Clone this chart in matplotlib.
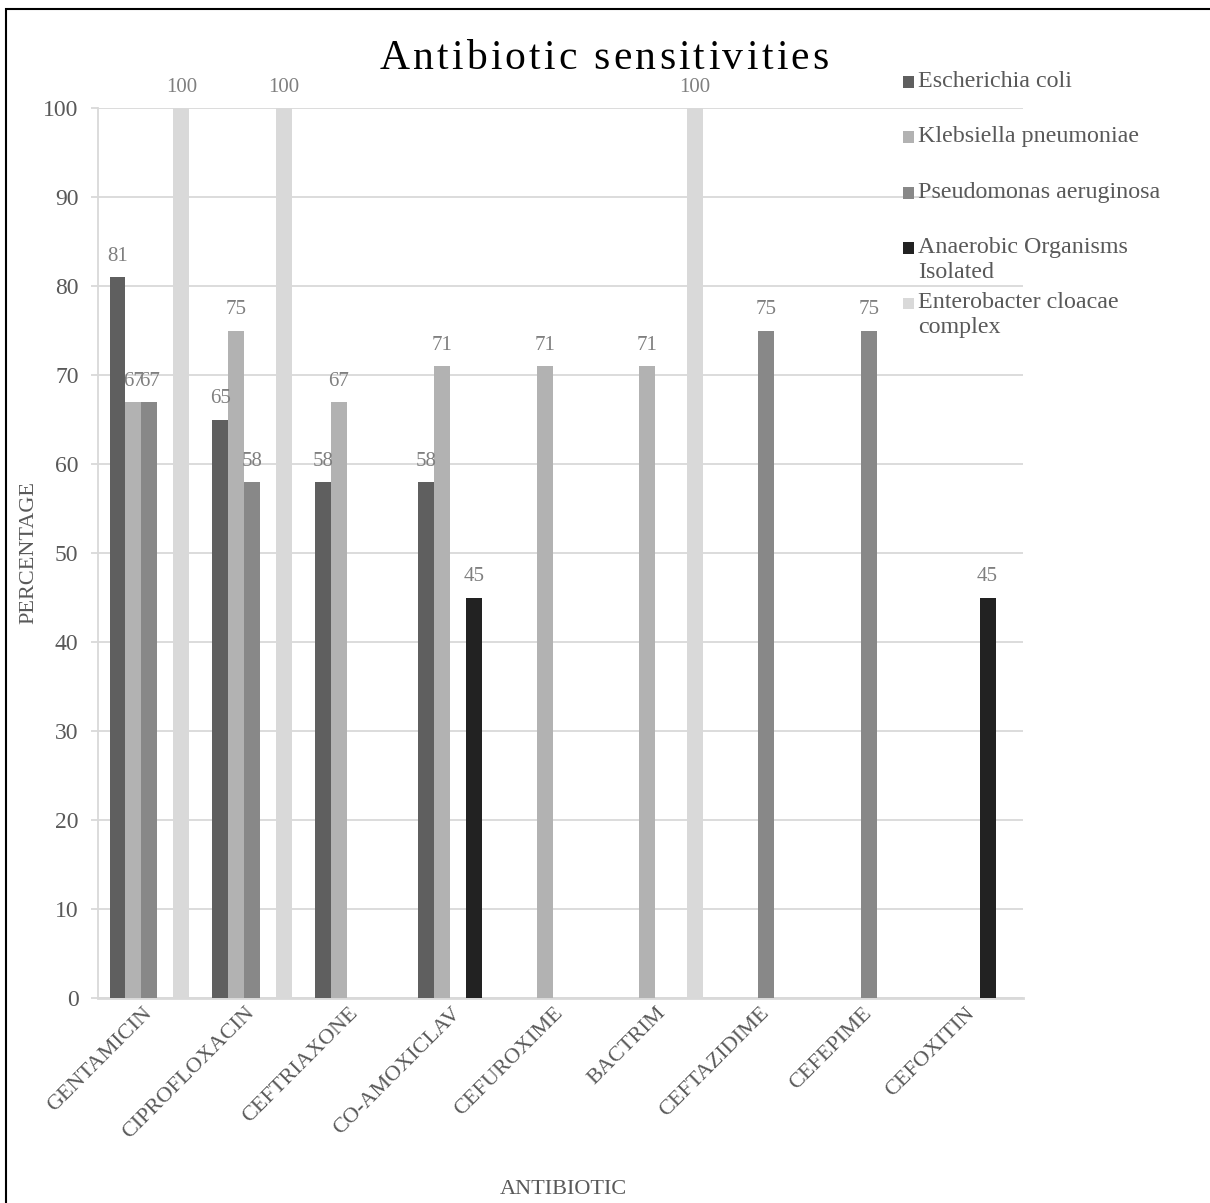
import numpy as np
import matplotlib
matplotlib.use('Agg')
import matplotlib.pyplot as plt
from matplotlib.patches import Rectangle

plt.rcParams['font.family'] = ['Liberation Serif', 'DejaVu Serif']

# data
antibiotics = ['GENTAMICIN', 'CIPROFLOXACIN', 'CEFTRIAXONE', 'CO-AMOXICLAV',
               'CEFUROXIME', 'BACTRIM', 'CEFTAZIDIME', 'CEFEPIME', 'CEFOXITIN']
series = ['Escherichia coli', 'Klebsiella pneumoniae', 'Pseudomonas aeruginosa',
          'Anaerobic Organisms\nIsolated', 'Enterobacter cloacae\ncomplex']
ecoli = [81, 65, 58, 58, 0, 0, 0, 0, 0]
klebsiella = [67, 75, 67, 71, 71, 71, 0, 0, 0]
pseudomonas = [67, 58, 0, 0, 0, 0, 75, 75, 0]
anaerobic = [0, 0, 0, 45, 0, 0, 0, 0, 45]
enterobacter = [100, 100, 0, 0, 0, 100, 0, 0, 0]
values = [ecoli, klebsiella, pseudomonas, anaerobic, enterobacter]
colors = ['#5f5f5f', '#b2b2b2', '#888888', '#222222', '#d9d9d9']

W, H = 1210, 1203
fig = plt.figure(figsize=(W/100, H/100), dpi=100)

# outer frame
fig.patches.append(Rectangle((6/W, -0.01), 1.02, 1 - 9/H + 0.01, transform=fig.transFigure,
                             fill=False, edgecolor='black', linewidth=1.5))

ax = fig.add_axes([98/W, 1 - 998/H, 925/W, 890/H])

x = np.arange(len(antibiotics))
bw = 0.155
for i, (vals, col) in enumerate(zip(values, colors)):
    vals = np.array(vals)
    pos = x + (i - 2) * bw
    mask = vals > 0
    ax.bar(pos[mask], vals[mask], width=bw, color=col, linewidth=0, zorder=3)
    for xp, v in zip(pos[mask], vals[mask]):
        ax.annotate(str(v), (xp, v), xytext=(0, 8), textcoords='offset points',
                    ha='center', va='bottom', fontsize=15, color='#7f7f7f',
                    annotation_clip=False, zorder=4)

ax.set_xlim(-0.5, len(antibiotics) - 0.5)
ax.set_ylim(0, 100)
ax.set_yticks(np.arange(0, 101, 10))
ax.yaxis.grid(True, color='#d9d9d9', linewidth=1.3, zorder=0)
ax.set_axisbelow(True)
for s in ['top', 'right']:
    ax.spines[s].set_visible(False)
ax.spines['left'].set_color('#d9d9d9')
ax.spines['left'].set_linewidth(1.3)
ax.spines['bottom'].set_color('#d9d9d9')
ax.spines['bottom'].set_linewidth(2)
ax.tick_params(axis='y', length=5, width=1.3, color='#d9d9d9', labelsize=17,
               labelcolor='#595959', pad=9)
ax.tick_params(axis='x', length=0, pad=9)
ax.set_xticks(x)
ax.set_xticklabels(antibiotics, rotation=45, ha='right', va='center',
                   rotation_mode='anchor', fontsize=16, color='#595959')

ax.set_ylabel('PERCENTAGE', fontsize=16, color='#595959')
ax.yaxis.set_label_coords(-(98 - 38) / 925, 0.5)
fig.text(563/W, 1 - 1190/H, 'ANTIBIOTIC', ha='center', va='center',
         fontsize=16, color='#595959')


# title with letter spacing
def spaced_title(s, xc, yc, gap, **kw):
    r = fig.canvas.get_renderer()
    widths = []
    for ch in s:
        if ch == ' ':
            t1 = fig.text(0, 0, 'a a', **kw)
            t2 = fig.text(0, 0, 'aa', **kw)
            widths.append(t1.get_window_extent(r).width - t2.get_window_extent(r).width)
            t1.remove(); t2.remove()
        else:
            t = fig.text(0, 0, ch, **kw)
            widths.append(t.get_window_extent(r).width)
            t.remove()
    total = sum(widths) + gap * (len(s) - 1)
    xp = xc - total / 2
    for ch, w in zip(s, widths):
        if ch != ' ':
            fig.text(xp / W, 1 - yc / H, ch, ha='left', va='baseline', **kw)
        xp += w + gap


spaced_title('Antibiotic sensitivities', 604, 69, 3.2, fontsize=30, color='black')

# legend
leg_y = [82, 137, 193, 248, 303]
for name, col, yy in zip(series, colors, leg_y):
    fig.patches.append(Rectangle((903/W, 1 - (yy + 5.5)/H), 11/W, 11/H,
                                 transform=fig.transFigure, facecolor=col, edgecolor='none'))
    fig.text(918/W, 1 - (yy - 11)/H, name, ha='left', va='top', fontsize=17.3,
             color='#595959', linespacing=1.25)

fig.savefig('out.png', dpi=100)
